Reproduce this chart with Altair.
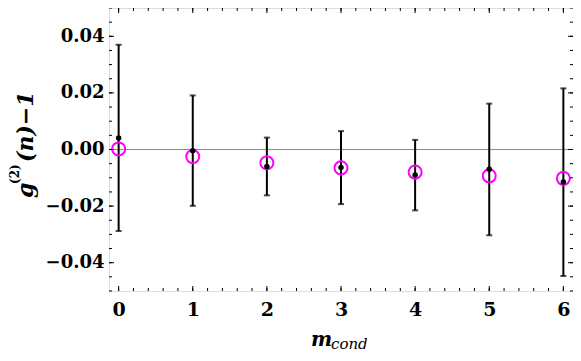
import altair as alt
import pandas as pd
import numpy as np

# ---- data ----
m_cond = [0, 1, 2, 3, 4, 5, 6]
g2_measured = [0.0041, -0.0004, -0.0060, -0.0064, -0.0090, -0.0070, -0.0115]
err_low = [-0.0288, -0.0199, -0.0162, -0.0193, -0.0215, -0.0303, -0.0447]
err_high = [0.0370, 0.0191, 0.0042, 0.0065, 0.0034, 0.0162, 0.0216]
g2_theory = [0.0002, -0.0025, -0.0047, -0.0065, -0.0080, -0.0093, -0.0102]

x_major = [0, 1, 2, 3, 4, 5, 6]
y_major = [-0.04, -0.02, 0.0, 0.02, 0.04]
x_minor = [round(v, 2) for v in np.arange(0, 6.01, 0.2)]
y_minor = [round(v, 3) for v in np.arange(-0.05, 0.0501, 0.005)]

W, H = 464, 283
FONT = "DejaVu Serif"

df = pd.DataFrame({"m": m_cond, "g": g2_measured, "lo": err_low,
                   "hi": err_high, "t": g2_theory})

xs = alt.Scale(domain=[-0.13, 6.13], nice=False, zero=False)
ys = alt.Scale(domain=[-0.05, 0.05], nice=False, zero=False)

x_axis = alt.Axis(values=x_major, format="d", ticks=False, domain=False,
                  grid=False, title=None, labelFont=FONT, labelFontWeight="bold",
                  labelFontSize=19, labelPadding=9, labelColor="black")
y_axis = alt.Axis(values=y_major, format=".2f", ticks=False, domain=False,
                  grid=False, title=None, labelFont=FONT, labelFontWeight="bold",
                  labelFontSize=18, labelPadding=5, labelColor="black")

base = alt.Chart(df)

zero_line = alt.Chart(pd.DataFrame({"z": [0.0]})).mark_rule(
    color="#8a8a8a", strokeWidth=1.2).encode(y=alt.Y("z:Q", scale=ys, axis=y_axis))

bars = base.mark_rule(color="black", strokeWidth=2).encode(
    x=alt.X("m:Q", scale=xs, axis=x_axis), y=alt.Y("lo:Q", scale=ys), y2="hi:Q")
cap_lo = base.mark_tick(color="black", thickness=2, size=6, orient="horizontal").encode(
    x=alt.X("m:Q", scale=xs), y=alt.Y("lo:Q", scale=ys))
cap_hi = base.mark_tick(color="black", thickness=2, size=6, orient="horizontal").encode(
    x=alt.X("m:Q", scale=xs), y=alt.Y("hi:Q", scale=ys))
theory = base.mark_point(shape="circle", filled=False, stroke="#ff00ff",
                         strokeWidth=2, size=170, opacity=1).encode(
    x=alt.X("m:Q", scale=xs), y=alt.Y("t:Q", scale=ys))
meas = base.mark_point(shape="circle", filled=True, color="black",
                       size=30, opacity=1).encode(
    x=alt.X("m:Q", scale=xs), y=alt.Y("g:Q", scale=ys))

# ---- inward frame ticks ----
def xticks(vals, length):
    d = alt.Chart(pd.DataFrame({"v": vals}))
    b = d.mark_rule(color="black", strokeWidth=1).encode(
        x=alt.X("v:Q", scale=xs), y=alt.value(H), y2=alt.value(H - length))
    t = d.mark_rule(color="black", strokeWidth=1).encode(
        x=alt.X("v:Q", scale=xs), y=alt.value(0), y2=alt.value(length))
    return [b, t]

def yticks(vals, length):
    d = alt.Chart(pd.DataFrame({"v": vals}))
    l = d.mark_rule(color="black", strokeWidth=1).encode(
        y=alt.Y("v:Q", scale=ys), x=alt.value(0), x2=alt.value(length))
    r = d.mark_rule(color="black", strokeWidth=1).encode(
        y=alt.Y("v:Q", scale=ys), x=alt.value(W), x2=alt.value(W - length))
    return [l, r]

tick_layers = xticks(x_major, 5) + xticks(x_minor, 3) + yticks(y_major, 5) + yticks(y_minor, 3)

# ---- titles built from text pieces ----
def txt(s, x, y, size, style="normal", weight="normal", angle=0):
    return alt.Chart(pd.DataFrame({"s": [s]})).mark_text(
        font=FONT, fontSize=size, fontStyle=style, fontWeight=weight,
        align="left", baseline="alphabetic", angle=angle, color="black").encode(
        text="s:N", x=alt.value(x), y=alt.value(y))

titles = [
    txt("m", 202, 338, 20, "italic", "bold"),
    txt("cond", 222, 341, 15, "italic"),
    txt("g", -76, 190, 22, "italic", "bold", 270),
    txt("(2)", -90, 176, 12, "normal", "bold", 270),
    txt("(n)−1", -76, 154, 22, "italic", "bold", 270),
]

chart = alt.layer(zero_line, bars, cap_lo, cap_hi, theory, meas,
                  *tick_layers, *titles).properties(
    width=W, height=H,
    autosize=alt.AutoSizeParams(type="none"),
    padding={"left": 101, "top": 0, "right": 0, "bottom": 62},
).configure_view(stroke="black", strokeWidth=1.3).configure(background="white")

chart.save("out.html", embed_options={"renderer": "svg", "actions": False})
